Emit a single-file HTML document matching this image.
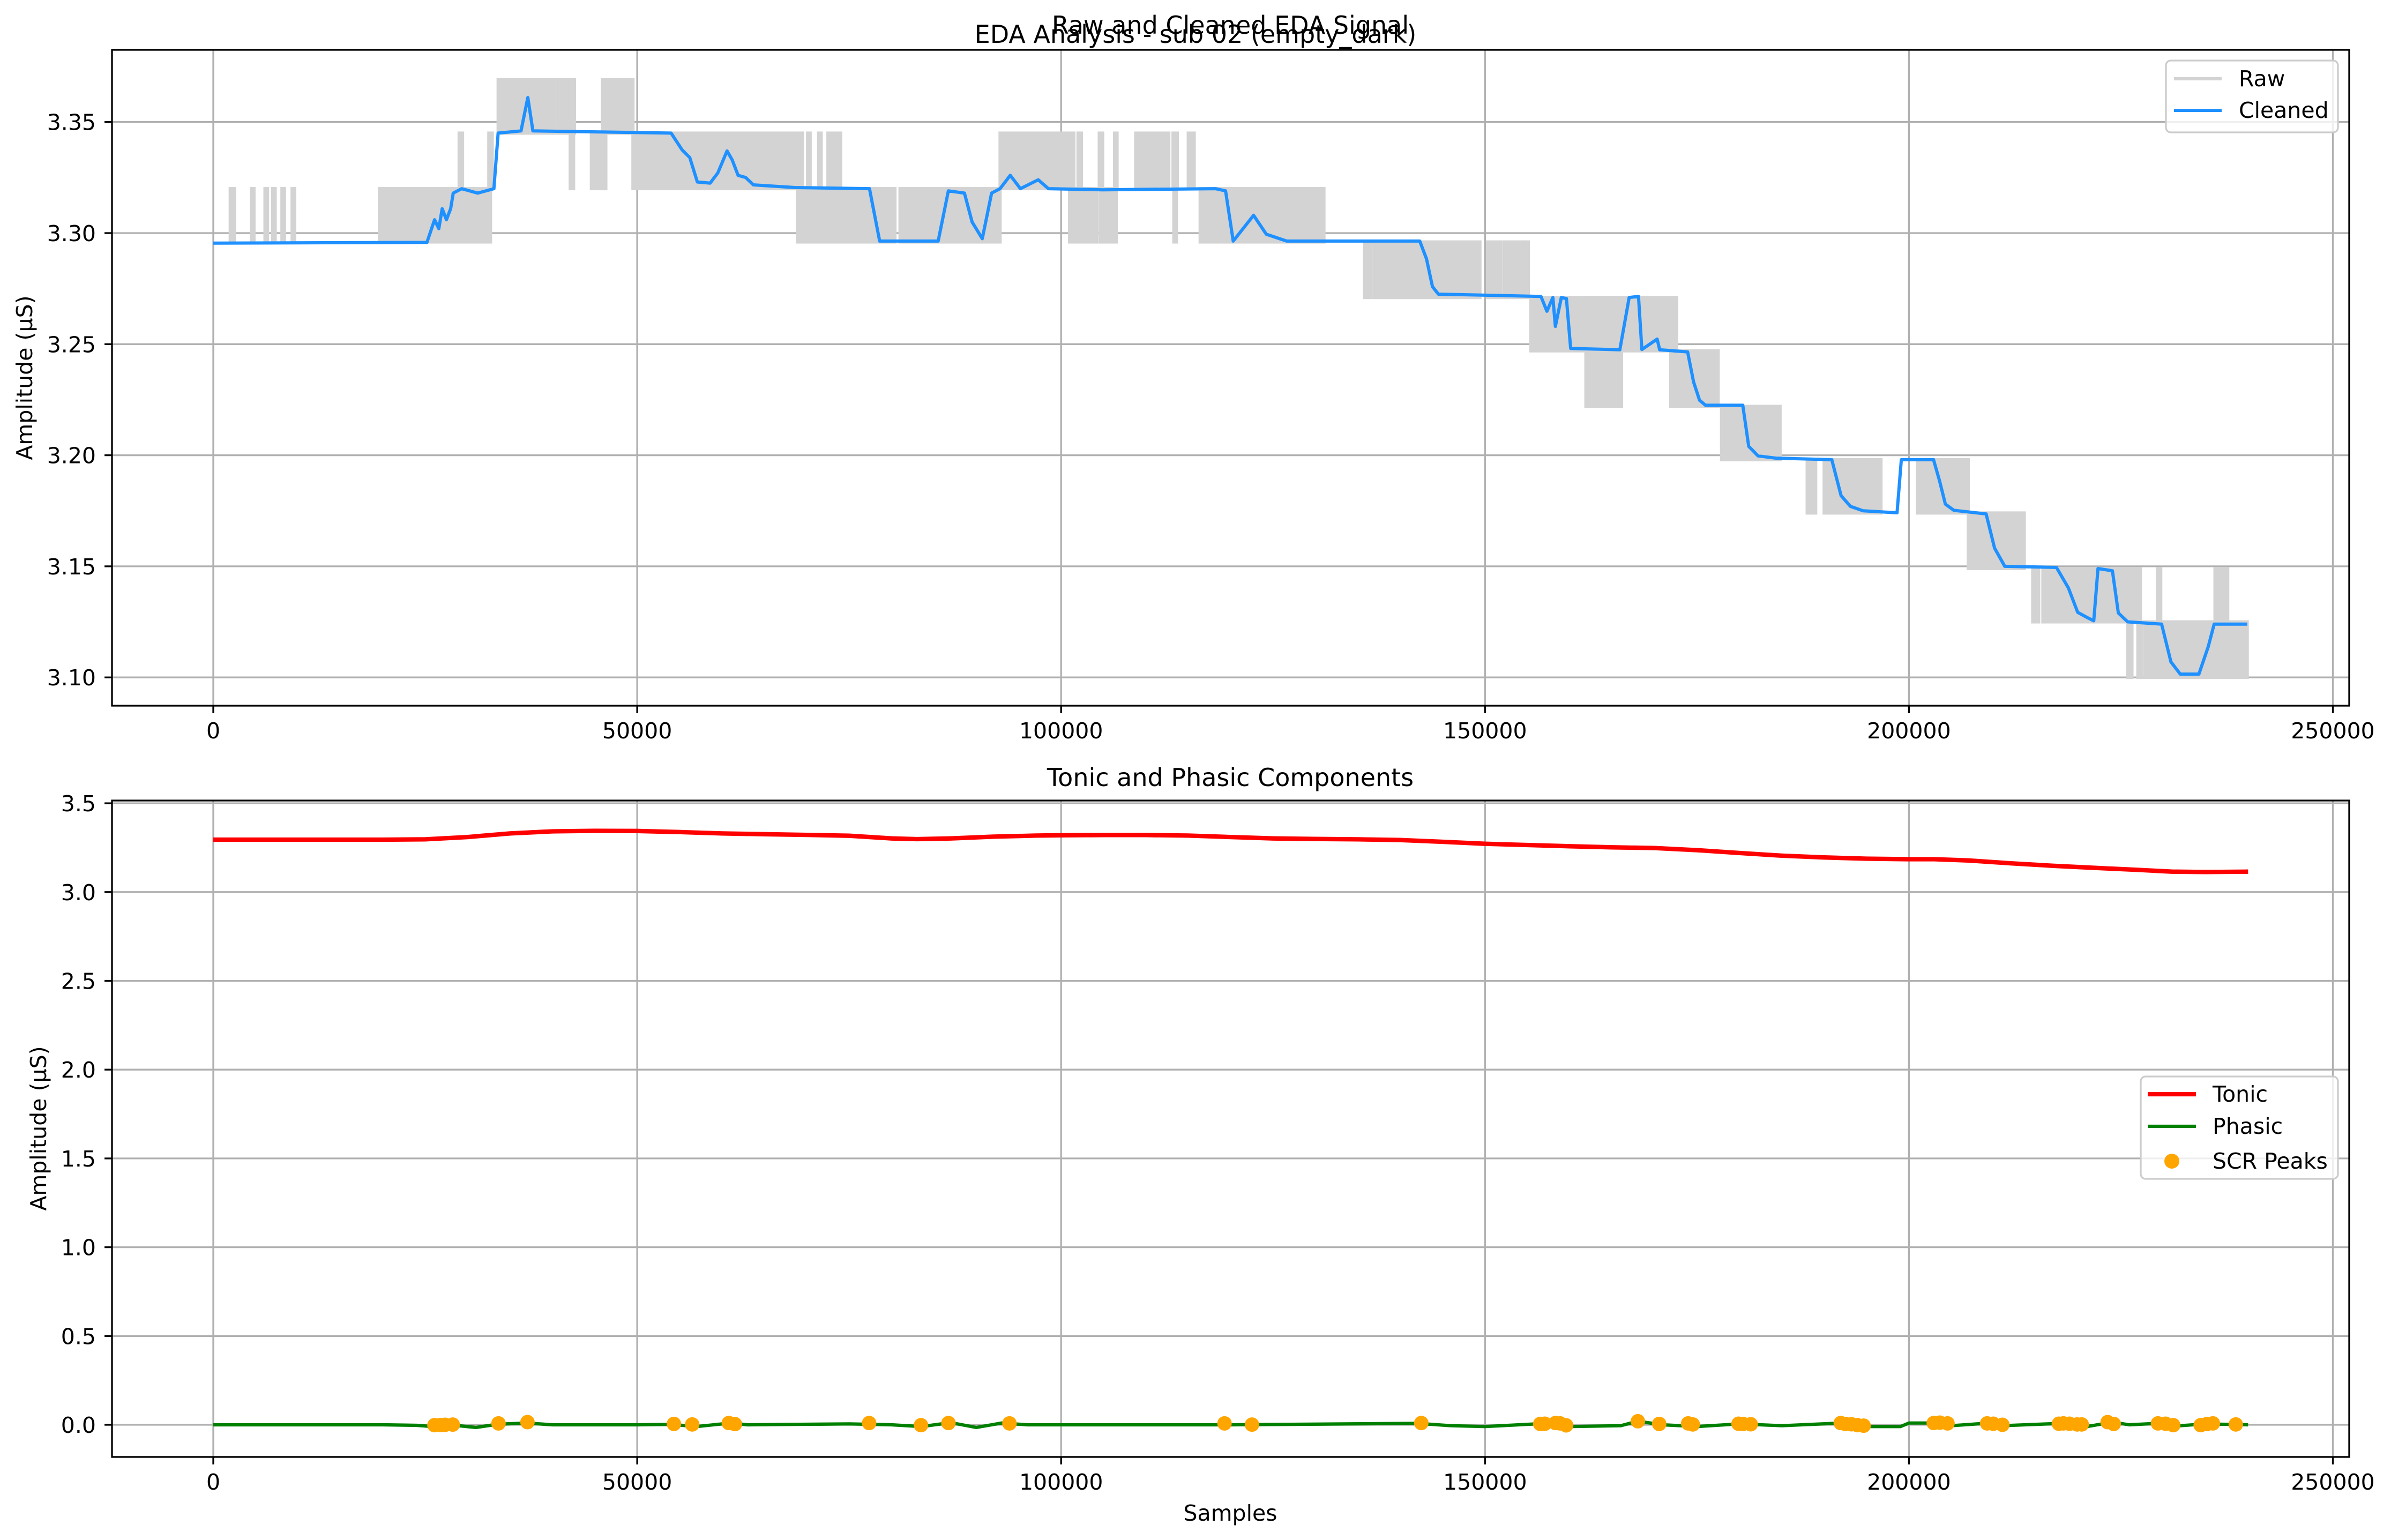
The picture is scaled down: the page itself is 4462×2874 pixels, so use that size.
<!DOCTYPE html>
<html><head><meta charset="utf-8"><style>
html,body{margin:0;padding:0;background:#fff}
svg{display:block}
text{font-family:"DejaVu Sans","Liberation Sans",sans-serif;fill:#000}
</style></head><body>
<svg id="fig" width="4462" height="2874" viewBox="0 0 4462 2874" xmlns="http://www.w3.org/2000/svg">
<rect x="0" y="0" width="4462" height="2874" fill="#fff"/>
<text x="2231" y="80" font-size="46" text-anchor="middle">EDA Analysis - sub 02 (empty_dark)</text>
<text x="2296" y="63" font-size="46" text-anchor="middle">Raw and Cleaned EDA Signal</text>
<text x="2296" y="1467" font-size="46" text-anchor="middle">Tonic and Phasic Components</text>
<text transform="translate(60,705) rotate(-90)" font-size="41" text-anchor="middle">Amplitude (µS)</text>
<text transform="translate(86,2106) rotate(-90)" font-size="41" text-anchor="middle">Amplitude (µS)</text>
<text x="2296" y="2838" font-size="41" text-anchor="middle">Samples</text>
<g id="top"></g>
<g id="bot"></g>
</svg>
<script>
// ---------- data ----------
const xTicks = [0, 50000, 100000, 150000, 200000, 250000];
const topYTicks = [3.10, 3.15, 3.20, 3.25, 3.30, 3.35];
const botYTicks = [0.0, 0.5, 1.0, 1.5, 2.0, 2.5, 3.0, 3.5];

const rawStart = [2000,4500,6100,7000,8100,9300,19600,29000,32500,33600,39800,40600,41300,42100,44600,45900,49500,70100,71400,72500,68900,81000,92800,102000,104500,106300,108800,109500,112300,113200,115000,101000,103600,104600,113300,116400,135800,136900,150300,152300,154800,155400,161900,171900,177900,188000,188600,190000,201000,207000,214600,215800,229300,236100,225800,227000,227800];
const rawEnd   = [2500,4800,6400,7300,8400,9600,32700,29400,32900,39600,40200,41000,42600,42500,46300,49500,69500,70400,71700,74000,80400,92800,101500,102400,104900,106600,109200,112000,112700,113700,115700,103300,104200,106500,113600,131000,136500,149400,151900,154500,155100,172600,166100,177500,184800,188400,189000,196700,207000,213600,215300,227300,229700,237600,226300,227400,239900];
const rawLow   = [3.296,3.296,3.296,3.296,3.296,3.296,3.296,3.320,3.320,3.345,3.345,3.345,3.345,3.320,3.320,3.345,3.320,3.320,3.320,3.320,3.296,3.296,3.320,3.320,3.320,3.320,3.320,3.320,3.320,3.320,3.320,3.296,3.296,3.296,3.296,3.296,3.271,3.271,3.271,3.271,3.271,3.247,3.222,3.222,3.198,3.174,3.174,3.174,3.174,3.149,3.125,3.125,3.125,3.125,3.100,3.100,3.100];
const rawHigh  = [3.320,3.320,3.320,3.320,3.320,3.320,3.320,3.345,3.345,3.369,3.369,3.369,3.369,3.345,3.345,3.369,3.345,3.345,3.345,3.345,3.320,3.320,3.345,3.345,3.345,3.345,3.345,3.345,3.345,3.345,3.345,3.320,3.320,3.320,3.320,3.320,3.296,3.296,3.296,3.296,3.296,3.271,3.271,3.247,3.222,3.198,3.198,3.198,3.198,3.174,3.149,3.149,3.149,3.149,3.125,3.125,3.125];

const cleanX = [0,25200,26100,26600,27000,27500,28000,28300,29300,31200,33100,33600,36300,37100,37700,54000,55300,56200,57100,58600,59500,60600,61200,61900,62800,63700,68600,77400,78600,85500,86700,88600,89500,90700,91800,92800,94000,95200,97300,98500,104900,118200,119400,120300,122700,124200,126600,142300,143100,143800,144500,156600,157300,158000,158300,159000,159600,160100,165900,167000,168100,168500,170300,170600,173900,174600,175300,176000,180400,181100,182200,184300,190900,192000,193100,194600,198600,199100,202900,203600,204300,205300,209100,210100,211300,217400,218800,219900,221000,221800,222300,224000,224700,225800,229800,230900,232000,234200,235300,236000,239900];
const cleanY = [3.2955,3.2958,3.306,3.302,3.311,3.306,3.311,3.318,3.320,3.318,3.320,3.345,3.346,3.361,3.346,3.345,3.3374,3.334,3.323,3.3225,3.327,3.337,3.333,3.326,3.325,3.3217,3.3205,3.320,3.2964,3.2964,3.319,3.318,3.305,3.2975,3.318,3.320,3.326,3.320,3.324,3.320,3.3195,3.320,3.319,3.2964,3.308,3.2995,3.2964,3.2964,3.2884,3.2759,3.2725,3.2715,3.2648,3.271,3.258,3.271,3.2705,3.2481,3.2475,3.271,3.2715,3.2476,3.2523,3.2475,3.2465,3.233,3.2248,3.2225,3.2225,3.204,3.1997,3.1987,3.198,3.1818,3.177,3.175,3.1741,3.198,3.198,3.1886,3.178,3.1752,3.1736,3.1582,3.150,3.1495,3.1403,3.1293,3.127,3.1255,3.149,3.148,3.129,3.125,3.124,3.107,3.1015,3.1015,3.1138,3.124,3.124];

const tonicX = [0,20000,25000,30000,35000,40000,45000,50000,55000,60000,65000,70000,75000,80000,83000,87000,92000,97000,100000,105000,110000,115000,120000,125000,130000,135000,140000,145000,150000,155000,160000,165000,170000,175000,180000,185000,190000,195000,200000,203000,207000,212000,217000,222000,227000,231000,235000,240000];
const tonicY = [3.295,3.295,3.297,3.31,3.33,3.342,3.345,3.344,3.338,3.33,3.326,3.322,3.317,3.302,3.298,3.302,3.312,3.318,3.32,3.321,3.321,3.318,3.31,3.302,3.299,3.297,3.293,3.283,3.272,3.265,3.258,3.252,3.248,3.236,3.22,3.205,3.195,3.188,3.185,3.185,3.178,3.162,3.148,3.136,3.125,3.115,3.113,3.115];

const phasicX = [0,20000,24000,26500,28500,31000,33500,37000,40000,50000,54000,57000,61000,63000,75000,80000,83500,87000,90000,93000,96000,120000,142000,146000,150000,156000,160000,166000,168000,171000,175000,180000,185000,192000,194500,199000,200000,203000,205000,209500,211000,218000,221000,224000,226000,230000,232000,235000,240000];
const phasicY = [0,0,-0.003,-0.012,-0.003,-0.015,0.003,0.01,0,0,0.002,-0.01,0.01,0,0.005,0,-0.01,0.012,-0.015,0.01,0,0,0.008,-0.005,-0.01,0.005,-0.01,-0.005,0.02,0,-0.01,0.005,-0.005,0.01,-0.01,-0.01,0.01,0.01,-0.005,0.01,-0.005,0.008,-0.01,0.015,0,0.01,-0.005,0.005,0];

const peakX = [26086,26805,27345,28244,33641,37059,54330,56489,60806,61526,77357,83474,86712,93908,119274,122512,142481,156512,157052,158311,158851,159571,168027,170545,173963,174503,179900,180440,181340,191954,192493,193213,193933,194652,202928,203647,204547,209224,209944,211023,217680,218219,218939,219838,220378,223436,224156,229373,230273,231172,234411,235130,235850,238549];
const peakY = [-0.002,-0.001,0,0.001,0.008,0.015,0.005,0.002,0.01,0.004,0.01,-0.002,0.01,0.008,0.008,0.001,0.01,0.005,0.006,0.01,0.008,-0.003,0.02,0.005,0.008,0.002,0.006,0.005,0.003,0.01,0.005,0.003,-0.002,-0.005,0.01,0.012,0.008,0.008,0.006,0,0.006,0.008,0.006,0.002,0.002,0.015,0.005,0.008,0.006,-0.002,-0.002,0.004,0.008,0.002];

// ---------- scales ----------
function xS(s){ return 398 + s * (4353.5 - 398) / 250000; }
function yTop(v){ return 435 + (3.30 - v) * 4146; }
function yBot(v){ return 2659 - v * 331.4; }
const TOP = {l:209, r:4384, t:93, b:1317};
const BOT = {l:209, r:4384, t:1494, b:2719};
const NS = 'http://www.w3.org/2000/svg';
function mk(parent, tag, attrs){
  const e = document.createElementNS(NS, tag);
  for (const k in attrs) e.setAttribute(k, attrs[k]);
  parent.appendChild(e);
  return e;
}
function poly(xs, ys, yf){
  let d = '';
  for (let i = 0; i < xs.length; i++) d += (i ? 'L' : 'M') + xS(xs[i]).toFixed(1) + ',' + yf(ys[i]).toFixed(1);
  return d;
}

function axes(g, box, yTicks, yf, fmt, prefix){
  // grid
  for (const t of xTicks){
    const x = xS(t);
    const gl = mk(g, 'line', {x1:x, x2:x, y1:box.t, y2:box.b, stroke:'#b0b0b0', 'stroke-width':3.3});
    
    
  }
  for (const t of yTicks){
    const y = yf(t);
    const gl = mk(g, 'line', {x1:box.l, x2:box.r, y1:y, y2:y, stroke:'#b0b0b0', 'stroke-width':3.3});
    
    
  }
}
function frame(g, box, yTicks, yf, fmt, prefix){
  const fr = mk(g, 'rect', {x:box.l, y:box.t, width:box.r-box.l, height:box.b-box.t, fill:'none', stroke:'#000', 'stroke-width':3.3});
  
  
  for (const t of xTicks){
    const x = xS(t);
    const tk = mk(g, 'line', {x1:x, x2:x, y1:box.b, y2:box.b+14, stroke:'#000', 'stroke-width':3.3});
    
    
    const tx = mk(g, 'text', {x:x, y:box.b+61, 'font-size':41, 'text-anchor':'middle'});
    tx.textContent = String(t);
    
    
  }
  for (const t of yTicks){
    const y = yf(t);
    const tk = mk(g, 'line', {x1:box.l-14, x2:box.l, y1:y, y2:y, stroke:'#000', 'stroke-width':3.3});
    
    
    const tx = mk(g, 'text', {x:box.l-30, y:y+15, 'font-size':41, 'text-anchor':'end'});
    tx.textContent = fmt(t);
    
    
  }
}

// ---------- top plot ----------
const gt = document.getElementById('top');
axes(gt, TOP, topYTicks, yTop, null, 'top');
const clipT = mk(gt, 'clipPath', {id:'clipTop'});
mk(clipT, 'rect', {x:TOP.l, y:TOP.t, width:TOP.r-TOP.l, height:TOP.b-TOP.t});
const gtd = mk(gt, 'g', {'clip-path':'url(#clipTop)'});


for (let i = 0; i < rawStart.length; i++){
  const x1 = xS(rawStart[i]) - 3, x2 = xS(rawEnd[i]) + 3;
  const y1 = yTop(rawHigh[i]) - 3, y2 = yTop(rawLow[i]) + 3;
  const r = mk(gtd, 'rect', {x:x1, y:y1, width:x2-x1, height:y2-y1, fill:'#d3d3d3'});
  
  
}
const cl = mk(gtd, 'path', {d:poly(cleanX, cleanY, yTop), fill:'none', stroke:'#1e90ff', 'stroke-width':6, 'stroke-linejoin':'round'});


frame(gt, TOP, topYTicks, yTop, v => v.toFixed(2), 'top');

// top legend
const lgT = mk(gt, 'g', {});


mk(lgT, 'rect', {x:4042, y:113, width:321, height:134, rx:9, fill:'#fff', 'fill-opacity':0.8, stroke:'#cccccc', 'stroke-width':3.3});
const lr = mk(lgT, 'line', {x1:4057, x2:4146, y1:147, y2:147, stroke:'#d3d3d3', 'stroke-width':6});


const lrt = mk(lgT, 'text', {x:4178, y:161, 'font-size':41});
lrt.textContent = 'Raw';


const lc = mk(lgT, 'line', {x1:4057, x2:4146, y1:206, y2:206, stroke:'#1e90ff', 'stroke-width':6});


const lct = mk(lgT, 'text', {x:4178, y:220, 'font-size':41});
lct.textContent = 'Cleaned';



// ---------- bottom plot ----------
const gb = document.getElementById('bot');
axes(gb, BOT, botYTicks, yBot, null, 'bottom');
const clipB = mk(gb, 'clipPath', {id:'clipBot'});
mk(clipB, 'rect', {x:BOT.l, y:BOT.t, width:BOT.r-BOT.l, height:BOT.b-BOT.t});
const gbd = mk(gb, 'g', {'clip-path':'url(#clipBot)'});


const tl = mk(gbd, 'path', {d:poly(tonicX, tonicY, yBot), fill:'none', stroke:'#ff0000', 'stroke-width':8.3, 'stroke-linejoin':'round'});


const pl = mk(gbd, 'path', {d:poly(phasicX, phasicY, yBot), fill:'none', stroke:'#008000', 'stroke-width':6.2, 'stroke-linejoin':'round'});


for (let i = 0; i < peakX.length; i++){
  const c = mk(gbd, 'circle', {cx:xS(peakX[i]), cy:yBot(peakY[i]), r:13.5, fill:'#ffa500'});
  
  
}
frame(gb, BOT, botYTicks, yBot, v => v.toFixed(1), 'bottom');

// bottom legend
const lgB = mk(gb, 'g', {});


mk(lgB, 'rect', {x:3995, y:2009, width:368, height:191, rx:9, fill:'#fff', 'fill-opacity':0.8, stroke:'#cccccc', 'stroke-width':3.3});
const lt = mk(lgB, 'line', {x1:4008, x2:4098, y1:2042, y2:2042, stroke:'#ff0000', 'stroke-width':8.3});


const ltt = mk(lgB, 'text', {x:4129, y:2056, 'font-size':41});
ltt.textContent = 'Tonic';


const lp = mk(lgB, 'line', {x1:4008, x2:4098, y1:2102, y2:2102, stroke:'#008000', 'stroke-width':6.2});


const lpt = mk(lgB, 'text', {x:4129, y:2116, 'font-size':41});
lpt.textContent = 'Phasic';


const ls = mk(lgB, 'circle', {cx:4053, cy:2167, r:14, fill:'#ffa500'});


const lst = mk(lgB, 'text', {x:4129, y:2181, 'font-size':41});
lst.textContent = 'SCR Peaks';


</script>
</body></html>
